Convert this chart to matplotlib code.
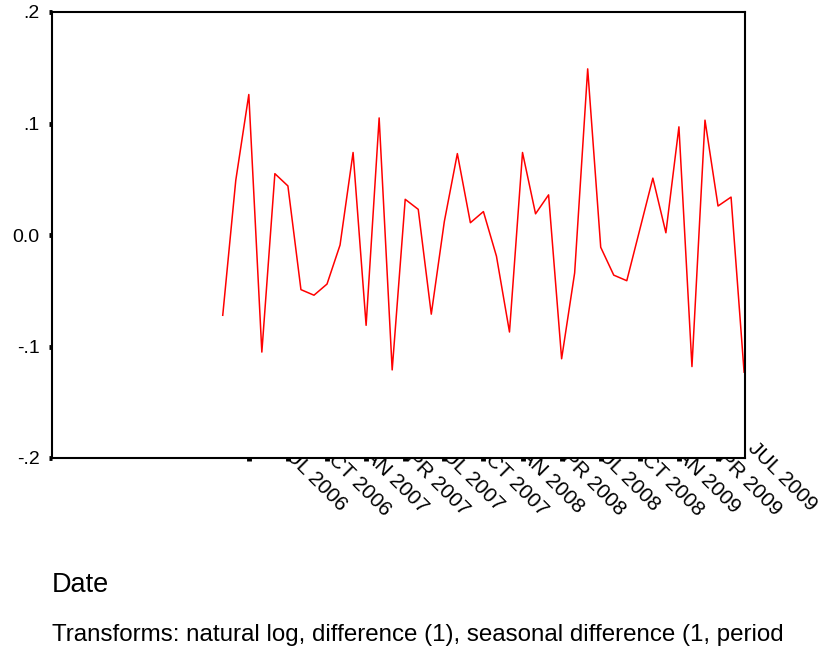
import numpy as np
import pandas as pd
import matplotlib
matplotlib.use('Agg')
import matplotlib.pyplot as plt
import matplotlib.transforms as mtransforms

plt.rcParams['font.family'] = ['Liberation Sans', 'DejaVu Sans']

# monthly series after log / difference / seasonal difference, starting FEB 2006
start_year, start_month = 2006, 2
values = [-0.072, 0.049, 0.126, -0.105, 0.055, 0.044, -0.049, -0.054, -0.044, -0.009,
          0.074, -0.081, 0.105, -0.121, 0.032, 0.023, -0.071, 0.012, 0.073, 0.011,
          0.021, -0.019, -0.087, 0.074, 0.019, 0.036, -0.111, -0.034, 0.149, -0.011,
          -0.036, -0.041, 0.005, 0.051, 0.002, 0.097, -0.118, 0.103, 0.026, 0.034,
          -0.123]

tick_marks = ['APR 2006', 'JUL 2006', 'OCT 2006', 'JAN 2007', 'APR 2007', 'JUL 2007',
              'OCT 2007', 'JAN 2008', 'APR 2008', 'JUL 2008', 'OCT 2008', 'JAN 2009',
              'APR 2009']
tick_labels = ['JUL 2006', 'OCT 2006', 'JAN 2007', 'APR 2007', 'JUL 2007', 'OCT 2007',
               'JAN 2008', 'APR 2008', 'JUL 2008', 'OCT 2008', 'JAN 2009', 'APR 2009',
               'JUL 2009']
y_ticks = [-0.2, -0.1, 0.0, 0.1, 0.2]
y_tick_labels = ['-.2', '-.1', '0.0', '.1', '.2']
x_title = 'Date'
footnote = 'Transforms: natural log, difference (1), seasonal difference (1, period'


def month_pos(label):
    d = pd.to_datetime(label.title(), format='%b %Y')
    return (d.year - start_year) * 12 + d.month - start_month


def create_graph():
    fig = plt.figure(figsize=(8.3, 6.47), dpi=100)
    ax = fig.add_axes([52 / 830, 1 - 458 / 647, 693 / 830, 446 / 647])

    x = np.arange(len(values))
    ax.plot(x, values, color='#ff0000', linewidth=1.1)

    ax.set_xlim(-13.1, 40.07)
    ax.set_ylim(-0.2, 0.2)
    ax.set_yticks(y_ticks)
    ax.set_yticklabels(y_tick_labels, fontsize=14)
    ax.set_xticks([month_pos(m) for m in tick_marks])
    ax.set_xticklabels([])
    ax.tick_params(direction='out', length=2.5, width=3.5, color='black', pad=6.5)
    for sp in ax.spines.values():
        sp.set_linewidth(1.5)

    # date labels sit behind the axes, so the plot area hides their start
    trans = mtransforms.blended_transform_factory(ax.transData, ax.transAxes)
    for lab in tick_labels:
        fig.text(month_pos(lab), 0.045, lab, transform=trans, rotation=-45,
                 rotation_mode='anchor', ha='left', va='top', fontsize=15, zorder=-1)

    fig.text(52 / 830, 1 - 592 / 647, x_title, fontsize=19.5, va='baseline')
    fig.text(52 / 830, 1 - 641 / 647, footnote, fontsize=17.4, va='baseline')

    fig.savefig('out.png', dpi=100)


if __name__ == '__main__':
    create_graph()
